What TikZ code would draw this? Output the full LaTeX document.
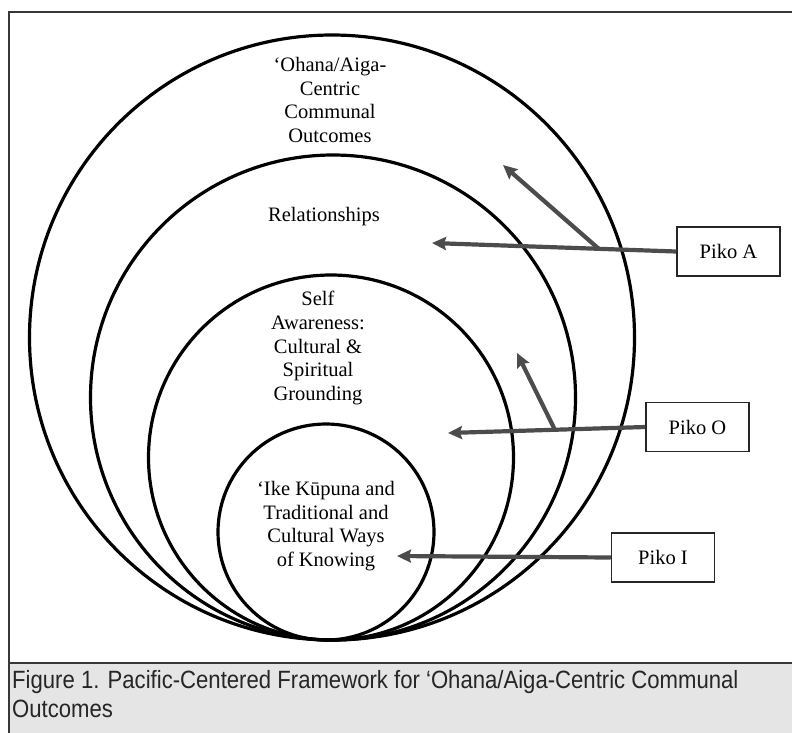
\documentclass[tikz,border=0pt]{standalone}
\usepackage{fontspec}
\setmainfont{Liberation Serif}
\newfontfamily\capfont[FakeStretch=0.885]{Liberation Sans}
\usetikzlibrary{arrows.meta}

\begin{document}
\begin{tikzpicture}[x=1pt,y=-1pt,
  ring/.style={black,line width=3.2pt},
  lbl/.style={inner sep=0pt,align=center,font=\fontsize{20.5}{23.7}\selectfont},
  pikobox/.style={draw=black!85,line width=1.5pt,fill=white,minimum width=103pt,minimum height=49pt,inner sep=0pt,font=\fontsize{20.5}{24}\selectfont},
  pointer/.style={draw=black!70,line width=4.2pt,-{Stealth[length=14pt,width=13pt,inset=2pt]}}]
\useasboundingbox (0,0) rectangle (792,732);
\clip (0,0) rectangle (792,732);
% frame and caption strip
\fill[black!10] (9,663) rectangle (800,740);
\draw[black!78,line width=2.4pt] (800,12) -- (9,12) -- (9,740);
\draw[black!78,line width=2.4pt] (9,663) -- (800,663);
\node[inner sep=0pt,anchor=west,align=left,text=black!85,font=\capfont\fontsize{25}{28.5}\selectfont] (caption) at (12,694) {Figure 1. Pacific-Centered Framework for ‘Ohana/Aiga-Centric Communal\\Outcomes};
% nested circles, all touching at the bottom
\draw [ring] (332,337.5) circle (302.5pt);
\draw [ring] (333,397.5) circle (242.5pt);
\draw [ring] (331,457.5) circle (182.5pt);
\draw [ring] (326,532) circle (108pt);
% circle texts
\node[lbl] (ohana) at (330,100) {‘Ohana/Aiga-\\Centric\\Communal\\Outcomes};
\node[lbl] (relations) at (324,217) {Relationships};
\node[lbl] (self) at (318,348) {Self\\Awareness:\\Cultural \&\\Spiritual\\Grounding};
\node[lbl] (ike) at (326,526) {‘Ike Kūpuna and\\Traditional and\\Cultural Ways\\of Knowing};
% piko boxes
\node[pikobox] (pikoA) at (728.5,251.5) {Piko A};
\node[pikobox] (pikoO) at (697.5,427) {Piko O};
\node[pikobox] (pikoI) at (663,557.5) {Piko I};
\coordinate (tipA) at (432,243);
\coordinate (forkA) at (599,249);
\coordinate (tipA2) at (503,165);
\coordinate (tipO) at (448,433);
\coordinate (forkO) at (555,430);
\coordinate (tipO2) at (517,353);
\coordinate (tipI) at (397,556);
% pointers
\draw [pointer] (pikoA.west) -- (tipA);
\draw [pointer] (forkA) -- (tipA2);
\draw [pointer] (pikoO.west) -- (tipO);
\draw [pointer] (forkO) -- (tipO2);
\draw [pointer] (pikoI.west) -- (tipI);
\end{tikzpicture}
\end{document}
